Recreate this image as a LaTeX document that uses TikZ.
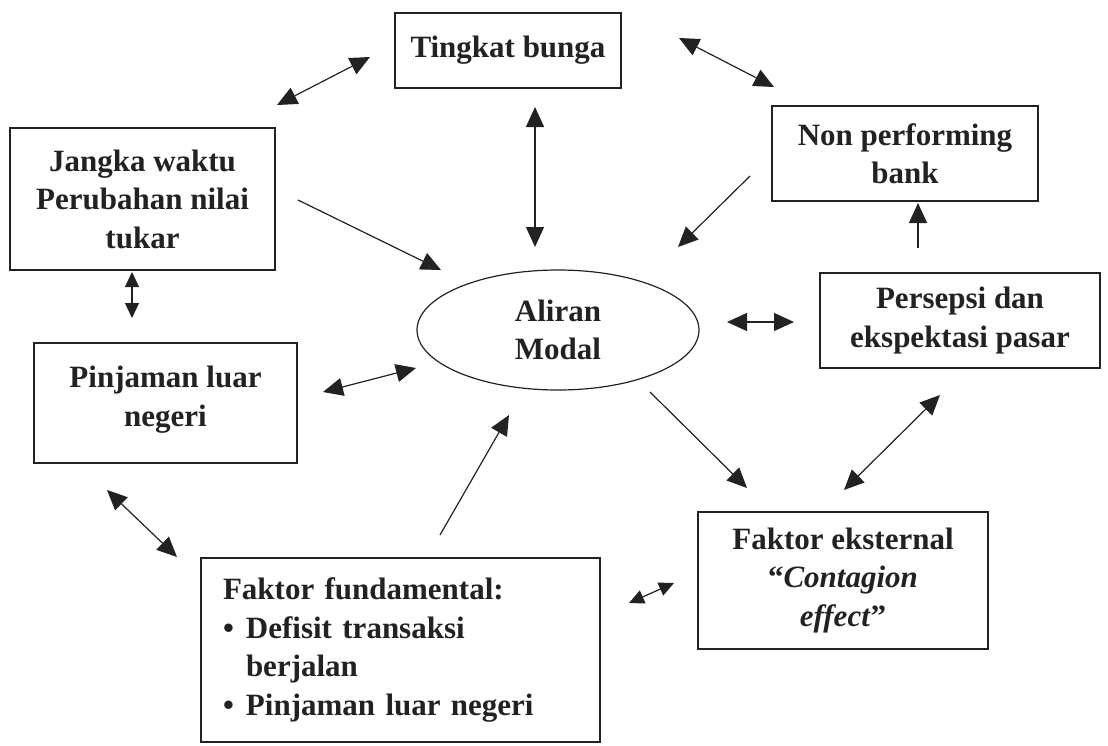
\documentclass[tikz,border=0pt]{standalone}
\usepackage{fontspec}
\setmainfont{Liberation Serif}
\usetikzlibrary{arrows.meta,shapes.geometric}
\definecolor{ink}{HTML}{222222}
\begin{document}
\begin{tikzpicture}[x=1pt,y=-1pt,
  box/.style={draw=ink, line width=1.5pt, align=center, inner sep=0pt, text=ink,
    font=\bfseries\fontsize{31}{38.5}\selectfont},
  tipbig/.tip={Triangle[length=20pt,width=18pt]},
  tipsmall/.tip={Triangle[length=15pt,width=14pt]},
  one/.style={-tipbig, line width=1.2pt, draw=ink},
  two/.style={tipbig-tipbig, line width=1.2pt, draw=ink},
  twosmall/.style={tipsmall-tipsmall, line width=1.2pt, draw=ink}]
\useasboundingbox (0,0) rectangle (1108,745);

\node[box, minimum width=226pt, minimum height=75pt] (tingkat) at (508,50.5) {Tingkat bunga};
\node[box, minimum width=265pt, minimum height=142pt] (jangka) at (142.5,199) {Jangka waktu\\Perubahan nilai\\tukar};
\node[box, minimum width=266pt, minimum height=95pt] (npb) at (905,153.5) {Non performing\\bank};
\node[box, minimum width=280pt, minimum height=95pt] (persepsi) at (960,320.5) {Persepsi dan\\ekspektasi pasar};
\node[box, minimum width=263pt, minimum height=120pt, text depth=14pt] (pinjaman) at (165.5,403) {Pinjaman luar\\negeri};
\node[box, minimum width=399pt, minimum height=184pt, text width=355pt, align=left] (fund) at (400.5,650)
  {Faktor fundamental:\\
   \makebox[23pt][l]{\textbullet}Defisit transaksi\\
   \hspace*{23pt}berjalan\\
   \makebox[23pt][l]{\textbullet}Pinjaman luar negeri};
\node[box, minimum width=290pt, minimum height=137pt] (eksternal) at (843,580.5)
  {Faktor eksternal\\“\textit{Contagion}\\\textit{effect}”};
\node[box, ellipse, line width=1.2pt, minimum width=282pt, minimum height=120pt] (aliran) at (558,330) {Aliran\\Modal};

% connector end points
\coordinate (jt1) at (277,105);  \coordinate (jt2) at (370,57);
\coordinate (ta1) at (535,107);  \coordinate (ta2) at (535,247);
\coordinate (tn1) at (679,38);   \coordinate (tn2) at (774,87);
\coordinate (ja1) at (298,200);  \coordinate (ja2) at (441,270);
\coordinate (na1) at (750,176);  \coordinate (na2) at (678,247);
\coordinate (pn1) at (918,248);  \coordinate (pn2) at (918,203);
\coordinate (jp1) at (132,272);  \coordinate (jp2) at (132,318);
\coordinate (pa1) at (323,392);  \coordinate (pa2) at (416,368);
\coordinate (ap1) at (727,322);  \coordinate (ap2) at (794,322);
\coordinate (pf1) at (107,490);  \coordinate (pf2) at (177,557);
\coordinate (fa1) at (440,535);  \coordinate (fa2) at (509,415);
\coordinate (ae1) at (650,392);  \coordinate (ae2) at (747,488);
\coordinate (pe1) at (940,395);  \coordinate (pe2) at (844,490);
\coordinate (fe1) at (629,603);  \coordinate (fe2) at (674,583);

\draw[two] (jt1) -- (jt2);
\draw[two] (ta1) -- (ta2);
\draw[two] (tn1) -- (tn2);
\draw[one] (ja1) -- (ja2);
\draw[one] (na1) -- (na2);
\draw[one] (pn1) -- (pn2);
\draw[twosmall] (jp1) -- (jp2);
\draw[two] (pa1) -- (pa2);
\draw[two] (ap1) -- (ap2);
\draw[two] (pf1) -- (pf2);
\draw[one] (fa1) -- (fa2);
\draw[one] (ae1) -- (ae2);
\draw[two] (pe1) -- (pe2);
\draw[twosmall] (fe1) -- (fe2);
\end{tikzpicture}
\end{document}
